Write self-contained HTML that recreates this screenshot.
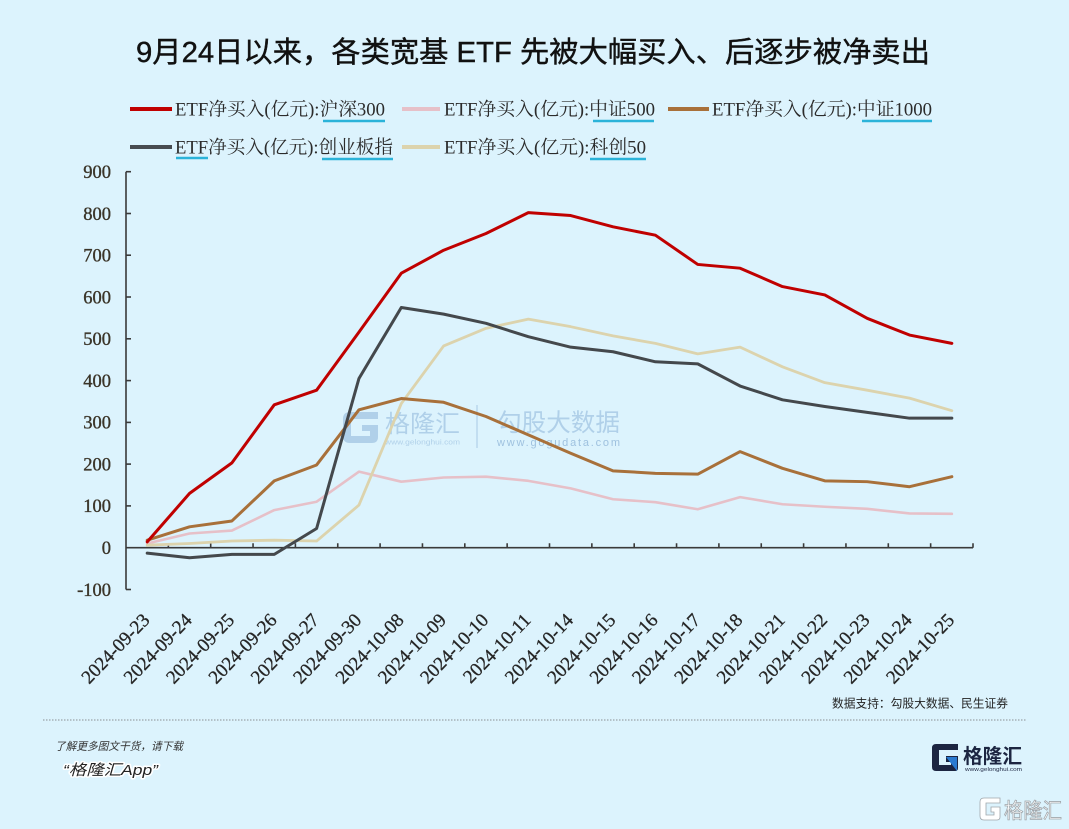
<!DOCTYPE html>
<html>
<head>
<meta charset="utf-8">
<style>
  html, body { margin:0; padding:0; background:#dcf3fd; }
  svg { display:block; }
  .serif { font-family: "Liberation Serif", "Noto Serif CJK SC", serif; }
  .sans { font-family: "Liberation Sans", "Noto Sans CJK SC", sans-serif; }
</style>
</head>
<body>
<svg width="1069" height="829" viewBox="0 0 1069 829" xmlns="http://www.w3.org/2000/svg">
  <rect x="0" y="0" width="1069" height="829" fill="#dcf3fd"/>

  <!-- Title -->
  <text class="sans" x="136" y="62" font-size="29" fill="#111" stroke="#111" stroke-width="0.4" textLength="794" lengthAdjust="spacingAndGlyphs">9月24日以来，各类宽基 ETF 先被大幅买入、后逐步被净卖出</text>

  <!-- Legend row 1 -->
  <g class="serif" font-size="18.5" fill="#2b2b2b">
    <line x1="130" y1="109" x2="172" y2="109" stroke="#c00000" stroke-width="4"/>
    <text x="175" y="115.5" textLength="210" lengthAdjust="spacingAndGlyphs">ETF净买入(亿元):沪深300</text>
    <line x1="323" y1="121" x2="385" y2="121" stroke="#2bb3d9" stroke-width="2.5"/>

    <line x1="402" y1="109" x2="440" y2="109" stroke="#e6c0c8" stroke-width="4"/>
    <text x="444" y="115.5" textLength="211" lengthAdjust="spacingAndGlyphs">ETF净买入(亿元):中证500</text>
    <line x1="593" y1="121" x2="654" y2="121" stroke="#2bb3d9" stroke-width="2.5"/>

    <line x1="668" y1="109" x2="709" y2="109" stroke="#a8703a" stroke-width="4"/>
    <text x="712" y="115.5" textLength="220" lengthAdjust="spacingAndGlyphs">ETF净买入(亿元):中证1000</text>
    <line x1="862" y1="121" x2="932" y2="121" stroke="#2bb3d9" stroke-width="2.5"/>

    <!-- Legend row 2 -->
    <line x1="130" y1="147" x2="172" y2="147" stroke="#474b50" stroke-width="4"/>
    <text x="175" y="153.5" textLength="218" lengthAdjust="spacingAndGlyphs">ETF净买入(亿元):创业板指</text>
    <line x1="176" y1="158" x2="208" y2="158" stroke="#2bb3d9" stroke-width="2.5"/>
    <line x1="322" y1="159" x2="393" y2="159" stroke="#2bb3d9" stroke-width="2.5"/>

    <line x1="402" y1="147" x2="440" y2="147" stroke="#dcd3ad" stroke-width="4"/>
    <text x="444" y="153.5" textLength="202" lengthAdjust="spacingAndGlyphs">ETF净买入(亿元):科创50</text>
    <line x1="590" y1="159" x2="646" y2="159" stroke="#2bb3d9" stroke-width="2.5"/>
  </g>

  <!-- Center watermark -->
  <g opacity="0.85">
    <path d="M378 412 L350 412 Q343 412 343 419 L343 436 Q343 443 350 443 L372 443 Q378 443 378 437 L378 425 L362 425 L362 431 L370 431 L370 436 L351 436 L351 419 L378 419 Z" fill="#a9cbe6"/>
    <text class="sans" x="385" y="432" font-size="24" fill="#a9cbe6" textLength="75" lengthAdjust="spacingAndGlyphs">格隆汇</text>
    <text class="sans" x="385" y="444.5" font-size="7.5" fill="#a9cbe6" textLength="75" lengthAdjust="spacingAndGlyphs">www.gelonghui.com</text>
    <line x1="477" y1="405" x2="477" y2="448" stroke="#a9cbe6" stroke-width="1.2"/>
    <text class="sans" x="497" y="431" font-size="24.5" fill="#a9cbe6" textLength="123" lengthAdjust="spacingAndGlyphs">勾股大数据</text>
    <text class="sans" x="497" y="446" font-size="11" fill="#94b9da" textLength="123" lengthAdjust="spacing">www.gogudata.com</text>
  </g>

  <!-- Axes -->
  <g stroke="#3a3a3a" stroke-width="1.6" fill="none">
    <line x1="126" y1="171.7" x2="126" y2="589.5"/>
    <line x1="126" y1="547.7" x2="973" y2="547.7"/>
    <line x1="126" y1="171.7" x2="131" y2="171.7"/>
    <line x1="126" y1="213.5" x2="131" y2="213.5"/>
    <line x1="126" y1="255.2" x2="131" y2="255.2"/>
    <line x1="126" y1="297.0" x2="131" y2="297.0"/>
    <line x1="126" y1="338.8" x2="131" y2="338.8"/>
    <line x1="126" y1="380.6" x2="131" y2="380.6"/>
    <line x1="126" y1="422.4" x2="131" y2="422.4"/>
    <line x1="126" y1="464.1" x2="131" y2="464.1"/>
    <line x1="126" y1="505.9" x2="131" y2="505.9"/>
    <line x1="126" y1="589.5" x2="131" y2="589.5"/>
    <path d="M168.35 547.7v-4.5 M210.7 547.7v-4.5 M253.05 547.7v-4.5 M295.4 547.7v-4.5 M337.75 547.7v-4.5 M380.1 547.7v-4.5 M422.45 547.7v-4.5 M464.8 547.7v-4.5 M507.15 547.7v-4.5 M549.5 547.7v-4.5 M591.85 547.7v-4.5 M634.2 547.7v-4.5 M676.55 547.7v-4.5 M718.9 547.7v-4.5 M761.25 547.7v-4.5 M803.6 547.7v-4.5 M845.95 547.7v-4.5 M888.3 547.7v-4.5 M930.65 547.7v-4.5 M973 547.7v-4.5"/>
  </g>

  <!-- Y labels -->
  <g class="serif" font-size="18.5" fill="#3a3428" stroke="#3a3428" stroke-width="0.35" text-anchor="end">
    <text x="111" y="178">900</text>
    <text x="111" y="219.8">800</text>
    <text x="111" y="261.5">700</text>
    <text x="111" y="303.3">600</text>
    <text x="111" y="345.1">500</text>
    <text x="111" y="386.9">400</text>
    <text x="111" y="428.7">300</text>
    <text x="111" y="470.4">200</text>
    <text x="111" y="512.2">100</text>
    <text x="111" y="554">0</text>
    <text x="111" y="595.8">-100</text>
  </g>

  <!-- Series -->
  <g transform="translate(147.2,547.7) scale(42.35,-0.4178)" fill="none" stroke-linejoin="round" stroke-linecap="round">
    <polyline vector-effect="non-scaling-stroke" stroke="#e6c0c8" stroke-width="2.6"
      points="0,10 1,34 2,41 3,90 4,110 5,182 6,158 7,168 8,170 9,160 10,142 11,116 12,109 13,92 14,121 15,104 16,98 17,93 18,82 19,81"/>
    <polyline vector-effect="non-scaling-stroke" stroke="#dcd3ad" stroke-width="2.8"
      points="0,6 1,10 2,16 3,18 4,16 5,102 6,345 7,483 8,525 9,547 10,529 11,507 12,489 13,464 14,480 15,433 16,395 17,377 18,358 19,328"/>
    <polyline vector-effect="non-scaling-stroke" stroke="#a8703a" stroke-width="3"
      points="0,18 1,50 2,64 3,160 4,198 5,330 6,357 7,348 8,314 9,270 10,226 11,184 12,178 13,176 14,230 15,190 16,160 17,158 18,146 19,170"/>
    <polyline vector-effect="non-scaling-stroke" stroke="#44484c" stroke-width="3"
      points="0,-13 1,-24 2,-16 3,-16 4,46 5,405 6,575 7,559 8,537 9,505 10,480 11,469 12,445 13,440 14,387 15,354 16,338 17,324 18,310 19,310"/>
    <polyline vector-effect="non-scaling-stroke" stroke="#c00000" stroke-width="3"
      points="0,14 1,130 2,203 3,342 4,377 5,516 6,657 7,712 8,752 9,802 10,795 11,768 12,748 13,678 14,669 15,625 16,605 17,549 18,509 19,489"/>
  </g>

  <!-- X labels -->
  <g class="serif" font-size="19" fill="#262626" stroke="#262626" stroke-width="0.3" text-anchor="end">
    <text transform="translate(150.7,621) rotate(-46)">2024-09-23</text>
    <text transform="translate(193.0,621) rotate(-46)">2024-09-24</text>
    <text transform="translate(235.4,621) rotate(-46)">2024-09-25</text>
    <text transform="translate(277.8,621) rotate(-46)">2024-09-26</text>
    <text transform="translate(320.1,621) rotate(-46)">2024-09-27</text>
    <text transform="translate(362.5,621) rotate(-46)">2024-09-30</text>
    <text transform="translate(404.8,621) rotate(-46)">2024-10-08</text>
    <text transform="translate(447.2,621) rotate(-46)">2024-10-09</text>
    <text transform="translate(489.5,621) rotate(-46)">2024-10-10</text>
    <text transform="translate(531.9,621) rotate(-46)">2024-10-11</text>
    <text transform="translate(574.2,621) rotate(-46)">2024-10-14</text>
    <text transform="translate(616.6,621) rotate(-46)">2024-10-15</text>
    <text transform="translate(658.9,621) rotate(-46)">2024-10-16</text>
    <text transform="translate(701.3,621) rotate(-46)">2024-10-17</text>
    <text transform="translate(743.6,621) rotate(-46)">2024-10-18</text>
    <text transform="translate(786.0,621) rotate(-46)">2024-10-21</text>
    <text transform="translate(828.3,621) rotate(-46)">2024-10-22</text>
    <text transform="translate(870.7,621) rotate(-46)">2024-10-23</text>
    <text transform="translate(913.0,621) rotate(-46)">2024-10-24</text>
    <text transform="translate(955.4,621) rotate(-46)">2024-10-25</text>
  </g>

  <!-- Source -->
  <text class="sans" x="832" y="707.5" font-size="11.7" fill="#222" textLength="176" lengthAdjust="spacingAndGlyphs">数据支持：勾股大数据、民生证券</text>

  <!-- Dotted divider -->
  <line x1="43" y1="720" x2="1026" y2="720" stroke="#8a8f94" stroke-width="1" stroke-dasharray="1.5 1.5"/>

  <!-- Footer left -->
  <text class="sans" x="55" y="750" font-size="11" font-style="italic" fill="#333" textLength="128" lengthAdjust="spacingAndGlyphs">了解更多图文干货，请下载</text>
  <text class="sans" x="63" y="775" font-size="15" font-style="italic" fill="#222" stroke="#ffffff" stroke-width="3" paint-order="stroke" stroke-linejoin="round" textLength="95" lengthAdjust="spacingAndGlyphs">“格隆汇App”</text>

  <!-- Footer logo -->
  <path d="M958 744 L936 744 Q932 744 932 748 L932 767 Q932 771 936 771 L955 771 Q958 771 958 768 L958 756 L946 756 L946 762 L951 762 L951 765 L939 765 L939 750 L958 750 Z" fill="#1c2541"/>
  <path d="M946 757 L957 757 L957 771 Z" fill="#2a7ad0"/>
  <text class="sans" x="963" y="763" font-size="20" font-weight="bold" fill="#1c2541" textLength="59" lengthAdjust="spacingAndGlyphs">格隆汇</text>
  <text class="sans" x="965" y="771" font-size="5" fill="#1c2541" textLength="57" lengthAdjust="spacingAndGlyphs">www.gelonghui.com</text>

  <!-- Bottom-right watermark -->
  <path d="M1000 798 L984 798 Q980 798 980 802 L980 816 Q980 820 984 820 L997 820 Q1000 820 1000 817 L1000 807 L991 807 L991 812 L994 812 L994 815 L986 815 L986 803 L1000 803 Z" fill="#ffffff" stroke="#a0a6ab" stroke-width="0.8"/>
  <text class="sans" x="1004" y="818" font-size="21" fill="#ffffff" stroke="#a0a6ab" stroke-width="0.8" textLength="58" lengthAdjust="spacingAndGlyphs">格隆汇</text>
</svg>
</body>
</html>
